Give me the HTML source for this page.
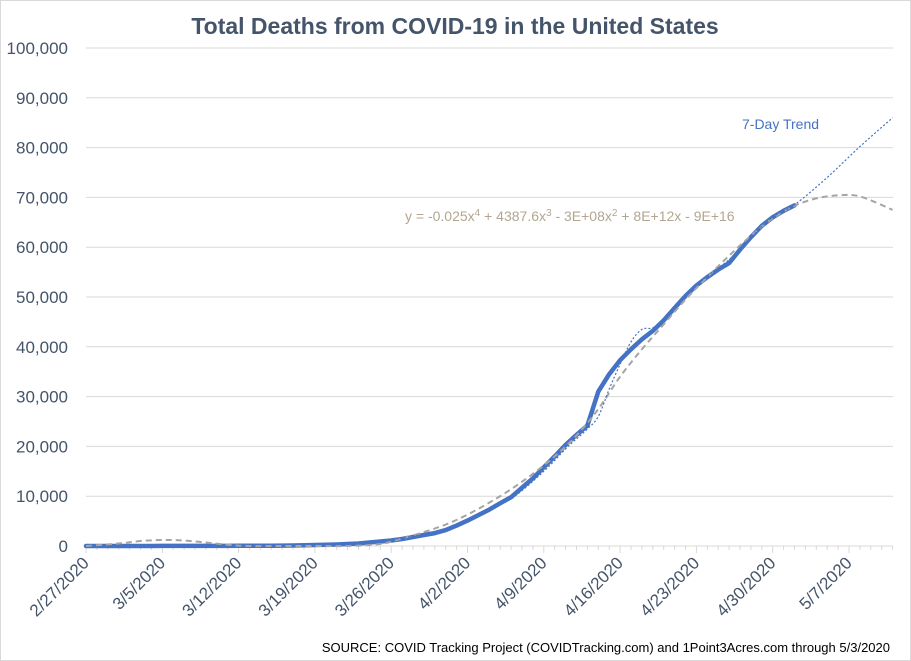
<!DOCTYPE html>
<html><head><meta charset="utf-8">
<style>
html,body{margin:0;padding:0;background:#fff;}
body{width:911px;height:661px;overflow:hidden;font-family:"Liberation Sans",sans-serif;}
#frame{position:absolute;left:0;top:0;width:909px;height:659px;border:1px solid #d9d9d9;}
</style></head>
<body>
<div id="frame"></div>
<svg id="chart" width="911" height="661" style="position:absolute;left:0;top:0"></svg>
<script>
const yTicks=[0,10000,20000,30000,40000,50000,60000,70000,80000,90000,100000];
const xTickLabels=["2/27/2020","3/5/2020","3/12/2020","3/19/2020","3/26/2020","4/2/2020","4/9/2020","4/16/2020","4/23/2020","4/30/2020","5/7/2020"];
const deaths=[0,0,1,1,2,6,9,11,12,15,19,22,26,30,38,41,48,60,80,100,150,200,250,310,400,500,700,900,1100,1400,1800,2200,2600,3200,4100,5100,6200,7300,8600,9800,11700,13600,15800,18000,20300,22300,24200,31000,34500,37300,39500,41500,43200,45300,47800,50200,52300,54000,55500,56800,59500,62000,64300,66000,67300,68400];
const polyDays=[0,3,5,7,9,11,13,15,18,21,24,27,29,31,33,35,37,39,41,43,45,47,49,51,53,55,57,59,61,63,65,67,69,71,74];
const polyVals=[0,500,1000,1200,1100,700,250,0,-200,-200,0,400,1500,2800,4300,6300,8700,11400,14500,18000,22200,27500,34000,39500,44500,49500,54000,58300,62300,65800,68300,69800,70400,70200,67500];
const trendDays=[27,30,33,36,39,42,44,45,46,47,48,49,50,51,52,53,55,57,59,61,63,65,68,71,74];
const trendVals=[900,2000,3300,6300,9500,15000,19500,21500,23500,26000,31500,36500,41000,43500,43800,45500,50200,54200,57500,62000,66000,68500,74000,80200,86000];
const svg=document.getElementById('chart');
const NS='http://www.w3.org/2000/svg';
const X0=86,DX=10.9,Y0=546,Y1=48,YMAX=100000,XR=893;
const xs=d=>X0+d*DX;
const ys=v=>Y0-(v/YMAX)*(Y0-Y1);
function mk(t,a){const e=document.createElementNS(NS,t);for(const k in a)e.setAttribute(k,a[k]);svg.appendChild(e);return e;}
yTicks.forEach(v=>{
  const g=mk('line',{x1:X0,x2:XR,y1:ys(v),y2:ys(v),stroke:'#d9d9d9','stroke-width':1});
  
  
  const t=mk('text',{x:68,y:ys(v)+6,'text-anchor':'end','font-size':17,fill:'#44546a','font-family':'Liberation Sans, sans-serif'});
  t.textContent=v.toLocaleString('en-US');
  
  
});
const ax=mk('line',{x1:X0,x2:XR,y1:Y0,y2:Y0,stroke:'#d9d9d9','stroke-width':1});


for(let d=0;d*DX+X0<=XR+0.5;d++){
  const tk=mk('line',{x1:xs(d),x2:xs(d),y1:Y0,y2:Y0+(d%7===0?7:4),stroke:'#d9d9d9','stroke-width':1});
  
  
}
xTickLabels.forEach((l,i)=>{
  const x=xs(i*7),y=Y0+14;
  const t=mk('text',{x:x+4,y:y+4,'text-anchor':'end','font-size':17,fill:'#44546a','font-family':'Liberation Sans, sans-serif',transform:`rotate(-45 ${x+4} ${y+4})`});
  t.textContent=l;
  
  
});
function path(days,vals){return days.map((d,i)=>(i?'L':'M')+xs(d).toFixed(1)+','+ys(Math.max(vals[i],0)).toFixed(1)).join(' ');}
function smooth(days,vals){
  const p=days.map((d,i)=>[xs(d),ys(Math.max(vals[i],0))]);
  let s='M'+p[0][0]+','+p[0][1];
  for(let i=0;i<p.length-1;i++){
    const a=p[i-1]||p[i],b=p[i],c=p[i+1],d=p[i+2]||c;
    s+=` C${b[0]+(c[0]-a[0])/6},${b[1]+(c[1]-a[1])/6} ${c[0]-(d[0]-b[0])/6},${c[1]-(d[1]-b[1])/6} ${c[0]},${c[1]}`;
  }
  return s;
}
const dd=deaths.map((_,i)=>i);
const main=mk('path',{d:path(dd,deaths),fill:'none',stroke:'#4472c4','stroke-width':4.5,'stroke-linejoin':'round','stroke-linecap':'round'});


const poly=mk('path',{d:smooth(polyDays,polyVals),fill:'none',stroke:'#a5a5a5','stroke-width':2,'stroke-dasharray':'6,4'});


const tr=mk('path',{d:smooth(trendDays,trendVals),fill:'none',stroke:'#4472c4','stroke-width':1.2,'stroke-dasharray':'2,2'});


function txt(s,a,name){const t=mk('text',a);t.textContent=s;return t;}
txt('Total Deaths from COVID-19 in the United States',{x:455,y:34,'text-anchor':'middle','font-size':23,'font-weight':'bold',fill:'#44546a','font-family':'Liberation Sans, sans-serif'},'chart-title');
txt('7-Day Trend',{x:742,y:129,'font-size':14,fill:'#4472c4','font-family':'Liberation Sans, sans-serif'},'trend-label');
const eq=txt('',{x:405,y:221,'font-size':14,fill:'#b2a690','font-family':'Liberation Sans, sans-serif'},'trendline-equation');
eq.innerHTML='y = -0.025x<tspan dy="-5" font-size="10">4</tspan><tspan dy="5"> + 4387.6x</tspan><tspan dy="-5" font-size="10">3</tspan><tspan dy="5"> - 3E+08x</tspan><tspan dy="-5" font-size="10">2</tspan><tspan dy="5"> + 8E+12x - 9E+16</tspan>';
txt('SOURCE: COVID Tracking Project (COVIDTracking.com) and 1Point3Acres.com through 5/3/2020',{x:890,y:652,'text-anchor':'end','font-size':13,fill:'#000','font-family':'Liberation Sans, sans-serif'},'source-note');
</script>
</body></html>
